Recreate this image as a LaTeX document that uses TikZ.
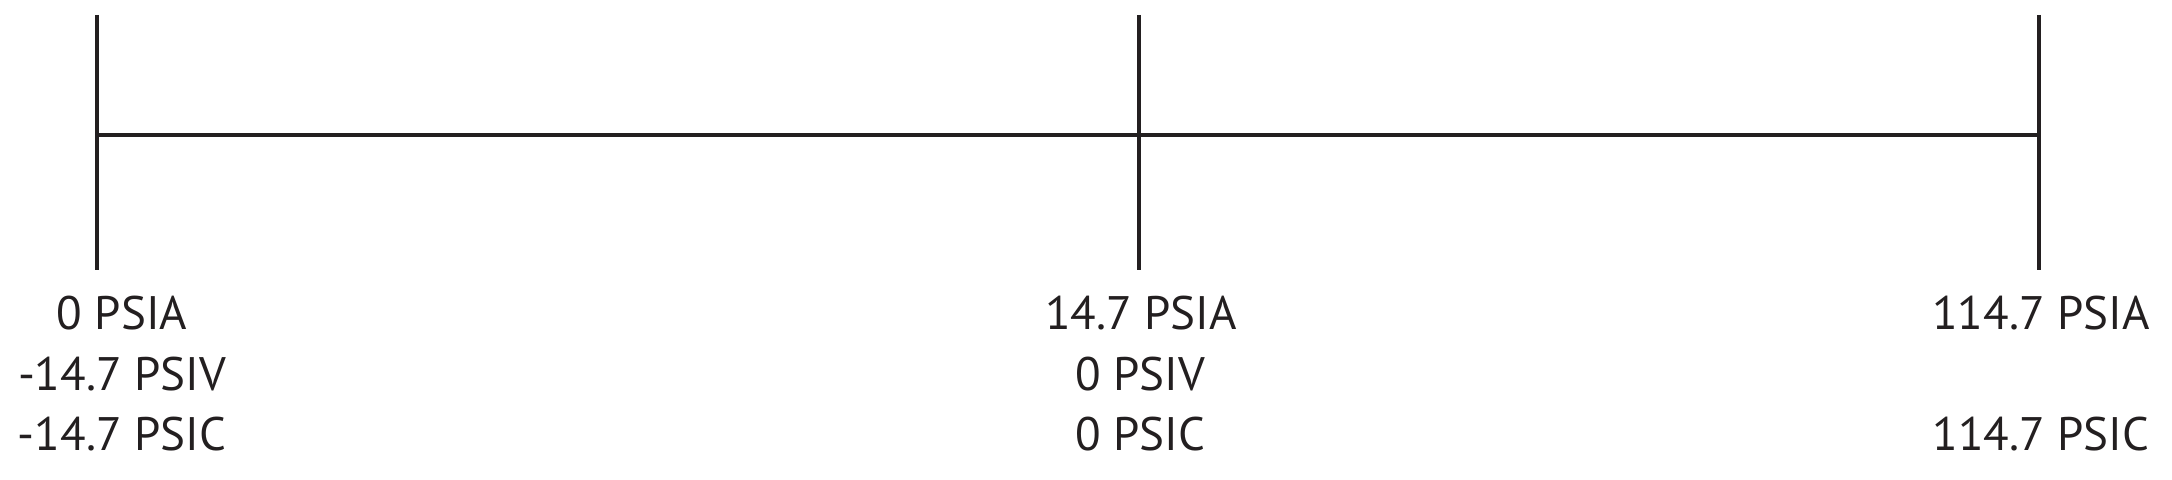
\documentclass[tikz,border=0pt]{standalone}
\usepackage{fontspec}
\setmainfont{PT Sans}
\definecolor{ink}{HTML}{231F20}
\begin{document}
\begin{tikzpicture}[x=0.5pt,y=-0.5pt,
  tick/.style={draw=ink,line width=2pt},
  lbl/.style={anchor=base,text=ink,inner sep=0pt,font=\fontsize{23.5}{28}\selectfont}]
\useasboundingbox (0,0) rectangle (2172,480);
\coordinate (t0a) at (97,15);  \coordinate (t0b) at (97,270);
\coordinate (t1a) at (1139,15); \coordinate (t1b) at (1139,270);
\coordinate (t2a) at (2039,15); \coordinate (t2b) at (2039,270);
\coordinate (h0) at (97,135); \coordinate (h2) at (2039,135);
\draw[tick] (t0a) -- (t0b);
\draw[tick] (t1a) -- (t1b);
\draw[tick] (t2a) -- (t2b);
\draw[tick] (h0) -- (h2);
\node[lbl] (a0) at (122,330) {0 PSIA};
\node[lbl] (v0) at (122,390) {-14.7 PSIV};
\node[lbl] (c0) at (122,450) {-14.7 PSIC};
\node[lbl] (a1) at (1141,330) {14.7 PSIA};
\node[lbl] (v1) at (1140,390) {0 PSIV};
\node[lbl] (c1) at (1140,450) {0 PSIC};
\node[lbl] (a2) at (2041,330) {114.7 PSIA};
\node[lbl] (c2) at (2041,450) {114.7 PSIC};
\end{tikzpicture}
\end{document}
